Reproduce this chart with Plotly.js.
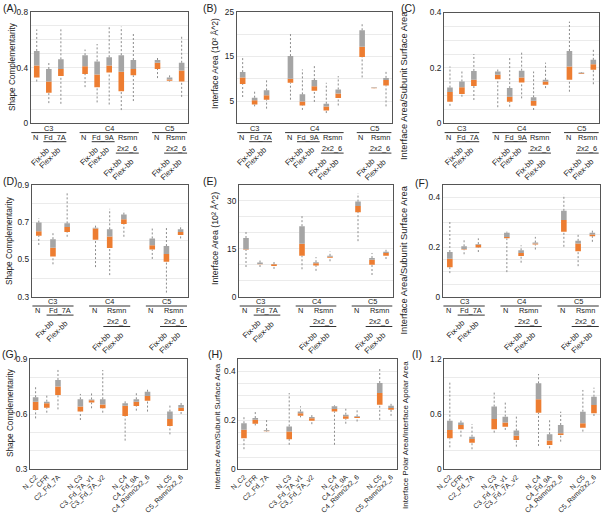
<!DOCTYPE html>
<html><head><meta charset="utf-8">
<script src="https://cdn.plot.ly/plotly-3.0.1.min.js"></script>
<style>html,body{margin:0;padding:0;background:#fff}#chart{width:602px;height:516px}</style>
</head><body><div id="chart"></div>
<script>
// ---------------- DATA ----------------
// Panels A-C: box labels
const abcGroup   = ['C3','C3','C3','C4','C4','C4','C4','C4','C5','C5','C5'];
const abcDesign  = ['N','Fd_7A','Fd_7A','N','Fd_9A','Fd_9A','Rsmn|2x2_6','Rsmn|2x2_6','N','Rsmn|2x2_6','Rsmn|2x2_6'];
const abcVariant = ['','Fix-bb','Flex-bb','','Fix-bb','Flex-bb','Fix-bb','Flex-bb','','Fix-bb','Flex-bb'];
// Panels D-F: box labels
const defGroup   = ['C3','C3','C3','C4','C4','C4','C5','C5','C5'];
const defDesign  = ['N','Fd_7A','Fd_7A','N','Rsmn|2x2_6','Rsmn|2x2_6','N','Rsmn|2x2_6','Rsmn|2x2_6'];
const defVariant = ['','Fix-bb','Flex-bb','','Fix-bb','Flex-bb','','Fix-bb','Flex-bb'];
// Panels G-I: box labels
const ghiGroup = ['C2','C2','C2','C3','C3','C3','C4','C4','C4','C5','C5'];
const ghiCategories = ['N_C2','CFR','C2_Fd_7A','N_C3','C3_Fd_7A_v1','C3_Fd_7A_v2','N_C4','C4_Fd_9A','C4_Rsmn2x2_6','N_C5','C5_Rsmn2x2_6'];

// (A) Shape complementarity
const aMin = [0.30,0.145,0.14,0.26,0.15,0.135,0.095,0.16,0.325,0.30,0.19];
const aQ1  = [0.33,0.22,0.34,0.355,0.26,0.365,0.23,0.345,0.39,0.305,0.30];
const aMed = [0.415,0.30,0.39,0.41,0.35,0.415,0.37,0.39,0.435,0.315,0.38];
const aQ3  = [0.52,0.39,0.46,0.49,0.445,0.475,0.49,0.455,0.455,0.33,0.435];
const aMax = [0.675,0.44,0.675,0.53,0.57,0.69,0.695,0.645,0.48,0.355,0.635];
// (B) Interface area
const bMin = [5.9,3.8,3.3,5.3,3.0,4.8,2.3,4.0,10.3,7.9,3.8];
const bQ1  = [8.8,4.2,5.3,9.1,4.0,7.3,2.9,5.7,14.9,7.85,8.5];
const bMed = [10.3,5.15,6.3,10.0,4.9,8.3,3.8,6.7,17.2,8.0,9.7];
const bQ3  = [11.5,5.75,7.4,15.1,6.5,9.7,4.4,7.6,20.9,8.1,10.2];
const bMax = [15.1,7.4,9.9,20.2,12.1,13.2,9.1,10.6,22.6,8.1,11.9];
// (C) Interface area / subunit surface area
const cMin = [0.063,0.096,0.084,0.058,0.060,0.09,0.048,0.127,0.114,0.178,0.141];
const cQ1  = [0.078,0.106,0.135,0.159,0.078,0.147,0.063,0.139,0.157,0.178,0.193];
const cMed = [0.113,0.130,0.157,0.175,0.096,0.165,0.081,0.151,0.205,0.181,0.213];
const cQ3  = [0.129,0.151,0.189,0.187,0.127,0.190,0.094,0.157,0.261,0.183,0.229];
const cMax = [0.205,0.187,0.25,0.199,0.239,0.259,0.187,0.219,0.367,0.185,0.271];
// (D) Shape complementarity
const dMin = [0.578,0.474,0.622,0.459,0.416,0.622,0.503,0.322,0.613];
const dQ1  = [0.628,0.516,0.647,0.606,0.562,0.69,0.553,0.488,0.632];
const dMed = [0.652,0.563,0.675,0.666,0.624,0.716,0.576,0.529,0.647];
const dQ3  = [0.698,0.609,0.694,0.671,0.662,0.741,0.613,0.572,0.662];
const dMax = [0.722,0.641,0.862,0.69,0.772,0.763,0.666,0.669,0.684];
// (E) Interface area
const eMin = [9.3,9.3,8.7,8.6,8.1,11.1,17.4,6.8,11.8];
const eQ1  = [14.7,10.2,9.6,12.8,9.8,12.2,26.5,10.0,12.8];
const eMed = [14.9,10.25,10.15,16.6,10.5,12.5,28.4,11.6,13.7];
const eQ3  = [18.4,10.7,10.25,22.1,10.8,12.8,29.8,12.1,14.1];
const eMax = [20.5,11.6,11.4,25.5,12.4,14.2,32.4,13.7,14.7];
// (F) Interface area / subunit surface area
const fMin = [0.095,0.171,0.18,0.099,0.137,0.19,0.201,0.123,0.221];
const fQ1  = [0.119,0.19,0.198,0.235,0.164,0.21,0.262,0.183,0.244];
const fMed = [0.153,0.192,0.209,0.241,0.176,0.214,0.309,0.214,0.251];
const fQ3  = [0.18,0.203,0.212,0.258,0.187,0.218,0.346,0.225,0.258];
const fMax = [0.309,0.235,0.235,0.262,0.207,0.241,0.411,0.252,0.268];
// (G) Shape complementarity
const gMin = [0.577,0.608,0.626,0.568,0.632,0.608,0.456,0.619,0.614,0.49,0.601];
const gQ1  = [0.623,0.635,0.704,0.614,0.663,0.632,0.59,0.644,0.673,0.536,0.617];
const gMed = [0.668,0.659,0.75,0.641,0.675,0.653,0.646,0.668,0.699,0.574,0.635];
const gQ3  = [0.692,0.668,0.786,0.681,0.68,0.681,0.659,0.681,0.722,0.614,0.65];
const gMax = [0.75,0.704,0.844,0.71,0.722,0.84,0.673,0.717,0.74,0.65,0.672];
// (H) Interface area / subunit surface area
const hMin = [0.082,0.179,0.153,0.1,0.212,0.184,0.1,0.186,0.195,0.202,0.218];
const hQ1  = [0.127,0.186,0.155,0.123,0.218,0.198,0.236,0.206,0.209,0.263,0.243];
const hMed = [0.161,0.202,0.157,0.154,0.229,0.208,0.246,0.216,0.213,0.311,0.25];
const hQ3  = [0.188,0.209,0.16,0.175,0.236,0.213,0.257,0.223,0.216,0.352,0.259];
const hMax = [0.213,0.236,0.202,0.311,0.257,0.223,0.261,0.247,0.243,0.414,0.273];
// (I) Interface polar area / interface apolar area
const iMin = [0.239,0.355,0.218,0.399,0.428,0.247,0.254,0.228,0.301,0.41,0.58];
const iQ1  = [0.337,0.435,0.29,0.435,0.464,0.319,0.616,0.265,0.373,0.453,0.609];
const iMed = [0.428,0.482,0.33,0.548,0.508,0.366,0.761,0.312,0.392,0.5,0.7];
const iQ3  = [0.529,0.508,0.355,0.682,0.573,0.421,0.935,0.381,0.482,0.627,0.79];
const iMax = [0.943,0.537,0.493,0.845,0.747,0.573,1.037,0.537,0.627,0.863,0.888];

const titleSC = 'Shape Complementarity';
const titleIA = 'Interface Area (10² Å^2)';
const titleSS = 'Interface Area/Subunit Surface Area';
const titlePA = 'Interface Polar Area/Interface Apolar Area';

// ---------------- LAYOUT / STYLE ----------------
const W = 602, H = 516;
const FONT = 'Liberation Sans, Arial, sans-serif';
const NARROW = '"Liberation Sans Narrow", "Arial Narrow", "Liberation Sans", Arial, sans-serif';
const ORANGE = '#ED7D31', GRAY = '#A5A5A5', WHISK = '#8c8c8c', FRAME = '#555555', GRID = '#ebebeb', TXT = '#222222';

const panels = [
  {dom:[30.7,187.7,12,123.3], g:abcGroup, d:abcDesign, v:abcVariant, s:[aMin,aQ1,aMed,aQ3,aMax], yr:[0,0.8], step:0.1, lab:[0,0.4,0.8], title:titleSC, tfs:8.2, tx:12, ty:67, letter:'(A)', lx:1, ly:0},
  {dom:[236.7,392,12,123.3], g:abcGroup, d:abcDesign, v:abcVariant, s:[bMin,bQ1,bMed,bQ3,bMax], yr:[0,25], step:5, lab:[5,15,25], title:titleIA, tfs:8.6, tx:215, ty:64, letter:'(B)', lx:201, ly:0},
  {dom:[444,599.3,12.5,123.3], g:abcGroup, d:abcDesign, v:abcVariant, s:[cMin,cQ1,cMed,cQ3,cMax], yr:[0,0.4], step:0.05, lab:[0,0.2,0.4], title:titleSS, tfs:9.3, tx:404, ty:86, letter:'(C)', lx:399, ly:0},
  {dom:[31.7,187.7,185,296.7], g:defGroup, d:defDesign, v:defVariant, s:[dMin,dQ1,dMed,dQ3,dMax], yr:[0.3,0.9], step:0.1, lab:[0.3,0.5,0.7,0.9], title:titleSC, tfs:8.2, tx:10, ty:241, letter:'(D)', lx:1, ly:173},
  {dom:[239,393,185,296.7], g:defGroup, d:defDesign, v:defVariant, s:[eMin,eQ1,eMed,eQ3,eMax], yr:[0,35], step:5, lab:[0,15,30], title:titleIA, tfs:8.8, tx:215, ty:239, letter:'(E)', lx:201, ly:173},
  {dom:[442.7,599.5,185,296.7], g:defGroup, d:defDesign, v:defVariant, s:[fMin,fQ1,fMed,fQ3,fMax], yr:[0,0.45], step:0.05, lab:[0,0.2,0.4], title:titleSS, tfs:9.3, tx:403.5, ty:260, letter:'(F)', lx:413, ly:175},
  {dom:[30,186.7,359,469.3], g:ghiGroup, cats:ghiCategories, s:[gMin,gQ1,gMed,gQ3,gMax], yr:[0.3,0.9], step:0.1, lab:[0.3,0.6,0.9], title:titleSC, tfs:8.2, tx:10, ty:413, letter:'(G)', lx:0, ly:346},
  {dom:[238.3,396.7,359,469.3], g:ghiGroup, cats:ghiCategories, s:[hMin,hQ1,hMed,hQ3,hMax], yr:[0,0.45], step:0.05, lab:[0,0.2,0.4], title:titleSS, tfs:7.9, tx:216.7, ty:426, letter:'(H)', lx:206, ly:346},
  {dom:[444.3,599.5,359,469.3], g:ghiGroup, cats:ghiCategories, s:[iMin,iQ1,iMed,iQ3,iMax], yr:[0,1.2], step:0.2, lab:[0,0.6,1.2], title:titlePA, tfs:8, tx:405, ty:435, letter:'(I)', lx:410, ly:346}
];

function positions(groups){
  let p = 0; const out = [];
  groups.forEach((g,i)=>{ if(i>0 && g!==groups[i-1]) p += 1; p += 1; out.push(p); });
  return out;
}
function runs(keys){
  const out = []; let cur = null;
  keys.forEach((k,i)=>{ if(cur && cur.key===k){cur.idx.push(i);} else {cur={key:k,idx:[i]}; out.push(cur);} });
  return out;
}
const r9 = v => Math.round(v*1e9)/1e9;

const traces = [], annotations = [], shapes = [];
const layout = {width:W, height:H, margin:{l:0,r:0,t:0,b:0}, paper_bgcolor:'#fff', plot_bgcolor:'#fff',
  showlegend:false, barmode:'overlay', font:{family:FONT, size:9, color:TXT}, annotations, shapes};

panels.forEach((P,k)=>{
  const n = k===0 ? '' : String(k+1);
  const xr = 'x'+n, yr = 'y'+n;
  const [x0,x1,y0,y1] = P.dom;
  const pos = positions(P.g);
  const N = pos[pos.length-1];
  const slot = (x1-x0)/N;
  const bw = 5.6/slot;
  const [mn,q1,md,q3,mx] = P.s;

  const wx = [], wy = [];
  pos.forEach((p,i)=>{ wx.push(p,p,null,p,p,null); wy.push(mn[i],q1[i],null,q3[i],mx[i],null); });
  traces.push({type:'scatter', mode:'lines', x:wx, y:wy, xaxis:xr, yaxis:yr, line:{color:WHISK, width:1, dash:'2px,2px'}, hoverinfo:'skip'});
  traces.push({type:'bar', x:pos, base:q1, y:q1.map((v,i)=>md[i]-v), width:bw, marker:{color:ORANGE, line:{width:0}}, xaxis:xr, yaxis:yr});
  traces.push({type:'bar', x:pos, base:md, y:md.map((v,i)=>q3[i]-v), width:bw, marker:{color:GRAY, line:{width:0}}, xaxis:xr, yaxis:yr});

  const tv = [], tt = [];
  for(let v=P.yr[0]; v<=P.yr[1]+1e-9; v+=P.step){ const vv=r9(v); tv.push(vv); tt.push(P.lab.some(l=>Math.abs(l-vv)<1e-9) ? String(vv) : ''); }

  layout['xaxis'+n] = {domain:[x0/W, x1/W], range:[0.5, N+0.5], anchor:yr, showline:true, mirror:true,
    linecolor:FRAME, linewidth:1, showgrid:false, zeroline:false, ticks:'', fixedrange:true,
    showticklabels:!!P.cats, tickmode:'array', tickvals:P.cats?pos:[], ticktext:P.cats||[], tickangle:-45,
    tickfont:{family:FONT, size:7, color:TXT}};
  layout['yaxis'+n] = {domain:[1-y1/H, 1-y0/H], range:P.yr, anchor:xr, showline:true, mirror:true,
    linecolor:FRAME, linewidth:1, zeroline:false, showgrid:true, gridcolor:GRID, gridwidth:1, ticks:'',
    tickmode:'array', tickvals:tv, ticktext:tt, tickfont:{family:NARROW, size:8.3, color:TXT}, fixedrange:true};

  annotations.push({xref:'paper', yref:'paper', x:P.tx/W, y:1-P.ty/H, text:P.title, textangle:-90, showarrow:false,
    xanchor:'center', yanchor:'middle', font:{family:FONT, size:P.tfs, color:TXT}});
  annotations.push({xref:'paper', yref:'paper', x:P.lx/W, y:1-P.ly/H, text:P.letter, showarrow:false,
    xanchor:'left', yanchor:'top', font:{family:FONT, size:10.5, color:TXT}});

  if(P.d){
    const Y = off => 1-(y1+off)/H;
    const lf = {family:NARROW, size:7.4, color:TXT};
    const rf = {family:FONT, size:7.8, color:TXT};
    const ln = {color:'#333', width:1};
    runs(P.g).forEach(run=>{
      const ps = run.idx.map(i=>pos[i]); const a = Math.min(...ps), b = Math.max(...ps);
      annotations.push({xref:xr, yref:'paper', x:(a+b)/2, y:Y(5.0), text:run.key, showarrow:false, xanchor:'center', yanchor:'middle', font:lf, borderpad:0});
      shapes.push({type:'line', xref:xr, yref:'paper', x0:a-0.45, x1:b+0.45, y0:Y(9.3), y1:Y(9.3), line:ln});
    });
    runs(P.g.map((g,i)=>g+'/'+P.d[i])).forEach(run=>{
      const d = P.d[run.idx[0]];
      const ps = run.idx.map(i=>pos[i]); const a = Math.min(...ps), b = Math.max(...ps);
      if(d==='N'){
        run.idx.forEach(i=>annotations.push({xref:xr, yref:'paper', x:pos[i]-0.1, y:Y(14.0), text:'N', showarrow:false, xanchor:'center', yanchor:'middle', font:lf, borderpad:0}));
        return;
      }
      const lines = d.split('|');
      annotations.push({xref:xr, yref:'paper', x:(a+b)/2, y:Y(14.0), text:lines[0], showarrow:false, xanchor:'center', yanchor:'middle', font:lf, borderpad:0});
      let vTop;
      if(lines.length===1){
        shapes.push({type:'line', xref:xr, yref:'paper', x0:a-0.45, x1:b+0.45, y0:Y(18.4), y1:Y(18.4), line:ln});
        vTop = 20.5;
      } else {
        annotations.push({xref:xr, yref:'paper', x:(a+b)/2, y:Y(24.8), text:lines[1], showarrow:false, xanchor:'center', yanchor:'middle', font:lf, borderpad:0});
        shapes.push({type:'line', xref:xr, yref:'paper', x0:a-0.45, x1:b+0.45, y0:Y(29.8), y1:Y(29.8), line:ln});
        vTop = 32;
      }
      run.idx.forEach(i=>annotations.push({xref:xr, yref:'paper', x:pos[i]+4/slot, y:Y(vTop), text:P.v[i], textangle:-45,
        showarrow:false, xanchor:'right', yanchor:'top', font:rf, borderpad:0}));
    });
  }
});

Plotly.newPlot('chart', traces, layout, {staticPlot:true, displayModeBar:false});
</script>
</body></html>
